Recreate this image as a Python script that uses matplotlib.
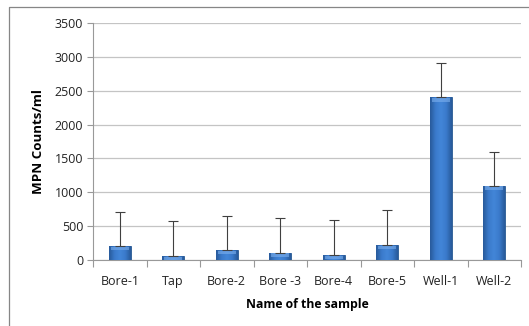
"""
MPN counts per sample: bar chart with upper error bars.
"""
import numpy as np
import matplotlib
matplotlib.use('Agg')
import matplotlib.pyplot as plt
from matplotlib.patches import Rectangle
from matplotlib.lines import Line2D
from matplotlib.colors import LinearSegmentedColormap

samples = ["Bore-1", "Tap", "Bore-2", "Bore -3", "Bore-4", "Bore-5", "Well-1", "Well-2"]
mpn_counts = [210, 60, 150, 110, 80, 225, 2400, 1100]
upper_err = [505, 515, 500, 505, 506, 508, 505, 500]

plt.rcParams['font.family'] = ['Open Sans', 'DejaVu Sans']

fig = plt.figure(figsize=(5.29, 3.26), dpi=100)
ax = fig.add_axes([93 / 529, 1 - 260 / 326, 428 / 529, 237 / 326])

x = np.arange(len(samples))
width = 0.41

# excel-like shaded bars: flat bars first, then a gradient image clipped to each
bars = ax.bar(x, mpn_counts, width=width, color="#3A78C6", edgecolor="#285890",
              linewidth=0.6, zorder=3)
cmap = LinearSegmentedColormap.from_list(
    "bar", ["#285A9A", "#3A7ACB", "#4386D8", "#3A7ACB", "#285A9A"])
grad = np.linspace(0, 1, 64).reshape(1, -1)
for b in bars:
    x0, w, h = b.get_x(), b.get_width(), b.get_height()
    im = ax.imshow(grad, cmap=cmap, aspect="auto", extent=[x0, x0 + w, 0, h],
                   zorder=3.5, interpolation="bicubic")
    im.set_clip_path(b)
    # lighter bevel along the top
    bevel = min(h, 70)
    ax.add_patch(Rectangle((x0 + w * 0.1, h - bevel * 0.9), w * 0.8, bevel * 0.7,
                           facecolor="#7DB0EE", edgecolor="none", alpha=0.6, zorder=3.6))

ax.errorbar(x, mpn_counts, yerr=[np.zeros(len(x)), upper_err], fmt="none",
            ecolor="#404040", elinewidth=0.8, capsize=3.5, capthick=0.8, zorder=4)

ax.set_xlim(-0.5, len(samples) - 0.5)
ax.set_ylim(0, 3500)
ax.set_yticks(np.arange(0, 3501, 500))
ax.set_xticks(x)
ax.set_xticklabels(samples)
ax.set_xticks(np.arange(-0.5, len(samples)), minor=True)

ax.grid(axis="y", color="#C4C4C4", linewidth=0.9, zorder=0)
ax.set_axisbelow(True)
for side in ["top", "right"]:
    ax.spines[side].set_visible(False)
for side in ["left", "bottom"]:
    ax.spines[side].set_color("#999999")
    ax.spines[side].set_linewidth(0.8)

ax.tick_params(axis="x", which="major", length=0, pad=11, labelsize=9)
ax.tick_params(axis="x", which="minor", length=5, color="#999999", width=0.8)
ax.tick_params(axis="y", length=4, color="#999999", width=0.8, labelsize=9, pad=3)
for lab in ax.get_xticklabels() + ax.get_yticklabels():
    lab.set_color("#222222")

ax.set_ylabel("MPN Counts/ml", fontsize=9.6, fontweight="bold", labelpad=7)
ax.set_xlabel("Name of the sample", fontsize=8.8, fontweight="bold", labelpad=7)

# chart area border, only left and top are inside the picture
fig.add_artist(Line2D([9 / 529, 9 / 529, 1.0], [0.0, 1 - 7 / 326, 1 - 7 / 326],
                      transform=fig.transFigure, color="#868686", linewidth=0.9))

plt.savefig("out.png", dpi=100)
plt.close()
